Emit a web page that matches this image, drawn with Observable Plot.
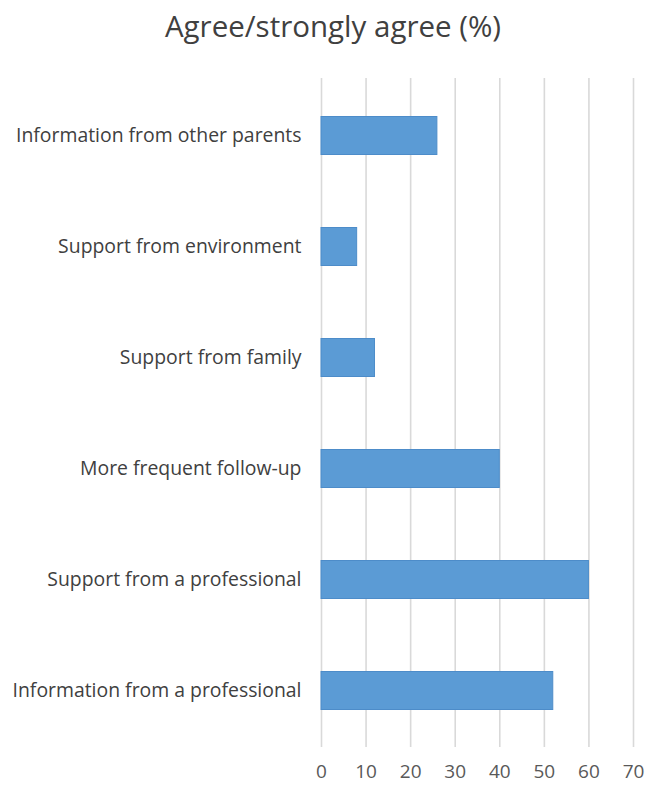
<!DOCTYPE html>
<html>
<head>
<meta charset="utf-8">
<script src="https://cdn.jsdelivr.net/npm/d3@7"></script>
<script src="https://cdn.jsdelivr.net/npm/@observablehq/plot@0.6"></script>
<style>
  body { margin: 0; background: #fff; font-family: "Open Sans", Lato, sans-serif; }
  #title { height: 60px; box-sizing: border-box; padding-top: 11px; line-height: 30px; text-align: center; font-size: 29.5px; color: #404040; padding-left: 7px; white-space: nowrap; }
</style>
</head>
<body>
<div id="title">Agree/strongly agree (%)</div>
<div id="chart"></div>
<script>
const categories = [
  "Information from other parents",
  "Support from environment",
  "Support from family",
  "More frequent follow-up",
  "Support from a professional",
  "Information from a professional"
];
const values = [26, 8, 12, 40, 60, 52];
const xTicks = [0, 10, 20, 30, 40, 50, 60, 70];

const data = categories.map((c, i) => ({category: c, value: values[i]}));

const chart = Plot.plot({
  width: 659,
  height: 725,
  marginLeft: 321,
  marginRight: 26,
  marginTop: 18,
  marginBottom: 38,
  style: { fontFamily: '"Open Sans", Lato, sans-serif', fontSize: "16px", color: "#404040", background: "#fff" },
  x: { domain: [0, 70], ticks: xTicks, label: null, tickSize: 0, tickPadding: 17 },
  y: { domain: categories, padding: 0, label: null, tickSize: 0, tickPadding: 20 },
  marks: [
    Plot.ruleX(xTicks, { stroke: "#d9d9d9", strokeWidth: 1.6 }),
    Plot.barX(data, {
      x: "value", y: "category",
      fill: "#5b9bd5", stroke: "#4d8cc9", strokeWidth: 1,
      insetTop: 36.5, insetBottom: 36.5
    }),
    Plot.axisX({ ticks: xTicks, tickSize: 0, tickPadding: 17, fontSize: 19, fill: "#595959", label: null }),
    Plot.axisY({ tickSize: 0, tickPadding: 20, fontSize: 19.4, fill: "#404040", label: null })
  ]
});
document.getElementById("chart").appendChild(chart);
</script>
</body>
</html>
